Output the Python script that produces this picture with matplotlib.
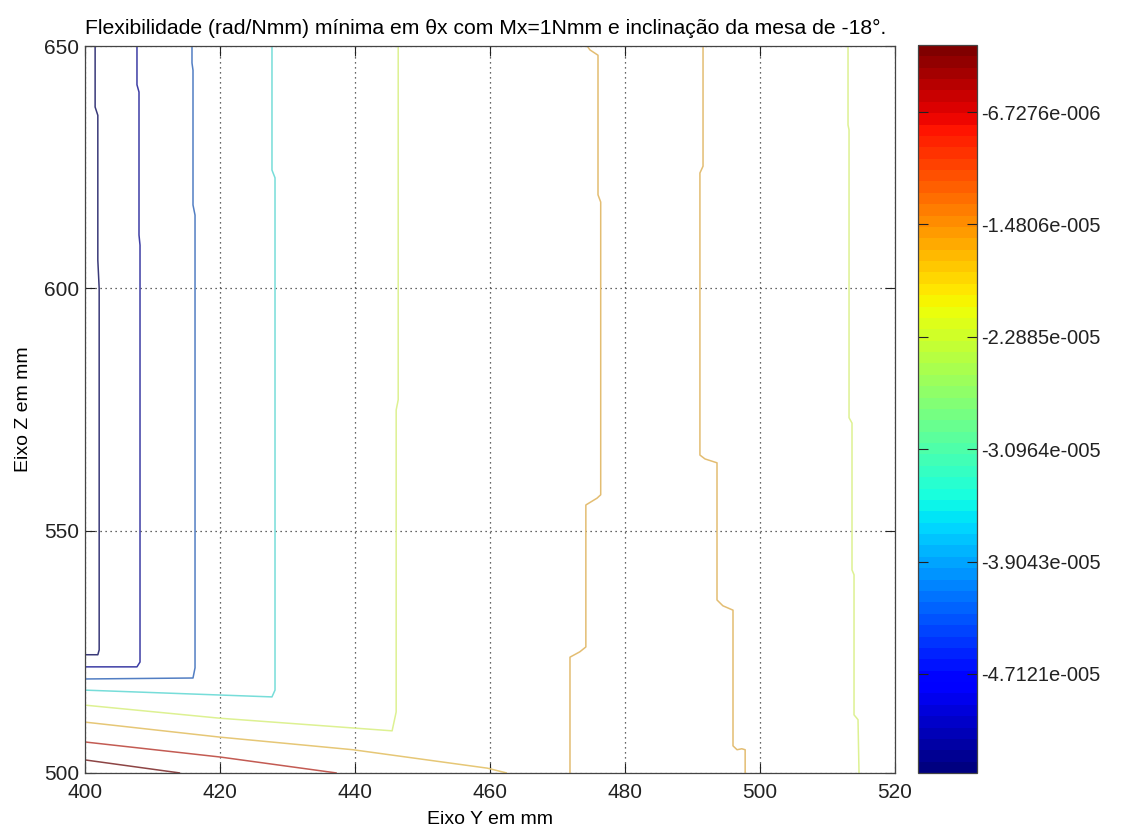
import numpy as np
import matplotlib
matplotlib.use("Agg")
import matplotlib.pyplot as plt
from matplotlib.collections import LineCollection
from matplotlib.colors import Normalize
from matplotlib.cm import ScalarMappable
from matplotlib.ticker import FuncFormatter

plt.rcParams['font.family'] = ['Liberation Sans', 'DejaVu Sans']

# Contour polylines of the minimum flexibility field (Y in mm, Z in mm) and their levels
y_a = [401.5, 401.5, 401.9, 401.9, 402.1, 402.1, 401.9, 400.0]
z_a = [650.0, 637.4, 635.7, 605.8, 600.0, 525.4, 524.4, 524.4]

y_b = [407.7, 407.7, 408.0, 408.0, 408.15, 408.15, 407.7, 400.0]
z_b = [650.0, 642.0, 640.5, 611.0, 608.9, 522.9, 521.9, 521.9]

y_c = [415.85, 415.85, 416.0, 416.0, 416.3, 416.3, 416.0, 400.0]
z_c = [650.0, 646.5, 645.0, 617.2, 615.1, 521.7, 519.6, 519.4]

y_d = [427.7, 427.7, 428.15, 428.15, 427.7, 400.0]
z_d = [650.0, 624.4, 622.8, 517.1, 515.7, 517.1]

y_e = [446.4, 446.4, 446.1, 446.1, 445.5, 420.0, 400.0]
z_e = [650.0, 577.0, 574.9, 512.6, 508.7, 511.3, 514.0]

y_f = [474.4, 474.8, 476.0, 476.0, 476.4, 476.4, 475.85, 474.2, 474.2, 473.3, 471.85, 471.85]
z_f = [650.0, 649.2, 648.1, 619.3, 617.8, 557.4, 556.7, 555.3, 526.0, 525.0, 523.9, 500.0]

y_g = [400.0, 420.0, 439.7, 459.6, 462.5]
z_g = [510.5, 507.4, 504.8, 501.0, 500.0]

y_h = [400.0, 420.0, 437.3]
z_h = [506.4, 503.3, 500.0]

y_i = [400.0, 414.1]
z_i = [502.7, 500.0]

y_j = [491.56, 491.56, 491.1, 491.1, 491.85, 493.63, 493.63, 494.5, 496.0, 496.0, 496.6, 497.3, 497.8, 497.8]
z_j = [650.0, 625.2, 623.8, 565.6, 564.8, 564.0, 535.7, 534.5, 533.6, 505.6, 504.8, 505.0, 504.8, 500.0]

y_k = [513.04, 513.04, 513.19, 513.19, 513.63, 513.63, 513.93, 513.93, 514.52, 514.67]
z_k = [650.0, 633.7, 632.7, 573.3, 572.2, 541.9, 540.9, 512.0, 511.0, 500.0]

contour_y = [y_a, y_b, y_c, y_d, y_e, y_f, y_g, y_h, y_i, y_j, y_k]
contour_z = [z_a, z_b, z_c, z_d, z_e, z_f, z_g, z_h, z_i, z_j, z_k]
contour_levels = [-5.3e-5, -4.9e-5, -4.2e-5, -3.5e-5, -2.3e-5, -1.6e-5,
                  -1.7e-5, -8.0e-6, -4.0e-6, -1.6e-5, -2.3e-5]

# Colour scale range and colorbar ticks
c_min, c_max = -5.424e-5, -1.91e-6
cbar_ticks = [-4.7121e-05, -3.9043e-05, -3.0964e-05, -2.2885e-05, -1.4806e-05, -6.7276e-06]

x_ticks = [400, 420, 440, 460, 480, 500, 520]
y_ticks = [500, 550, 600, 650]

title = "Flexibilidade (rad/Nmm) mínima em θx com Mx=1Nmm e inclinação da mesa de -18°."

fig = plt.figure(figsize=(11.23, 8.32), dpi=100)
ax = fig.add_axes([85 / 1123, 59 / 832, 810 / 1123, 727 / 832])
cax = fig.add_axes([918 / 1123, 59 / 832, 59 / 1123, 728 / 832])

cmap = plt.get_cmap('jet', 64)
norm = Normalize(vmin=c_min, vmax=c_max)

# Thin contour strokes: level colour from the colormap, softened toward grey and white
rgba = cmap(norm(np.array(contour_levels)))
lum = (0.299 * rgba[:, 0] + 0.587 * rgba[:, 1] + 0.114 * rgba[:, 2])[:, None]
soft = rgba.copy()
soft[:, :3] = 0.55 * rgba[:, :3] + 0.45 * lum
soft[:, :3] = 0.8 * soft[:, :3] + 0.2
soft = np.clip(soft, 0, 1)

segments = [np.column_stack([yy, zz]) for yy, zz in zip(contour_y, contour_z)]
lc = LineCollection(segments, colors=soft, linewidths=1.1)
ax.add_collection(lc)

ax.set_xlim(400, 520)
ax.set_ylim(500, 650)
ax.set_xticks(x_ticks)
ax.set_yticks(y_ticks)
ax.grid(True, linestyle=(0, (1, 3)), color='#333333', linewidth=0.9)
ax.tick_params(direction='in', length=7, width=0.8, top=True, right=True,
               labelsize=15, colors='#222222')
ax.tick_params(axis='x', pad=7)
ax.tick_params(axis='y', pad=4)
for s in ax.spines.values():
    s.set_color('#444444')
    s.set_linewidth(0.9)

ax.set_xlabel("Eixo Y em mm", fontsize=14, labelpad=7)
ax.set_ylabel("Eixo Z em mm", fontsize=14, labelpad=9)
ax.set_title(title, fontsize=15.2, pad=9, loc='left', x=0.0)


def matlab_exp(v, pos=None):
    mant, exp = f"{v:.4e}".split('e')
    sign = '-' if int(exp) < 0 else '+'
    return f"{mant}e{sign}{abs(int(exp)):03d}"


sm = ScalarMappable(norm=norm, cmap=cmap)
cb = fig.colorbar(sm, cax=cax)
cb.set_ticks(cbar_ticks)
cb.ax.yaxis.set_major_formatter(FuncFormatter(matlab_exp))
cb.ax.tick_params(direction='in', length=7, width=0.8, left=True, right=True,
                  labelsize=14.5, colors='#222222', pad=3)
cb.outline.set_edgecolor('#444444')
cb.outline.set_linewidth(0.9)

fig.savefig("out.png", dpi=100, facecolor='white')
